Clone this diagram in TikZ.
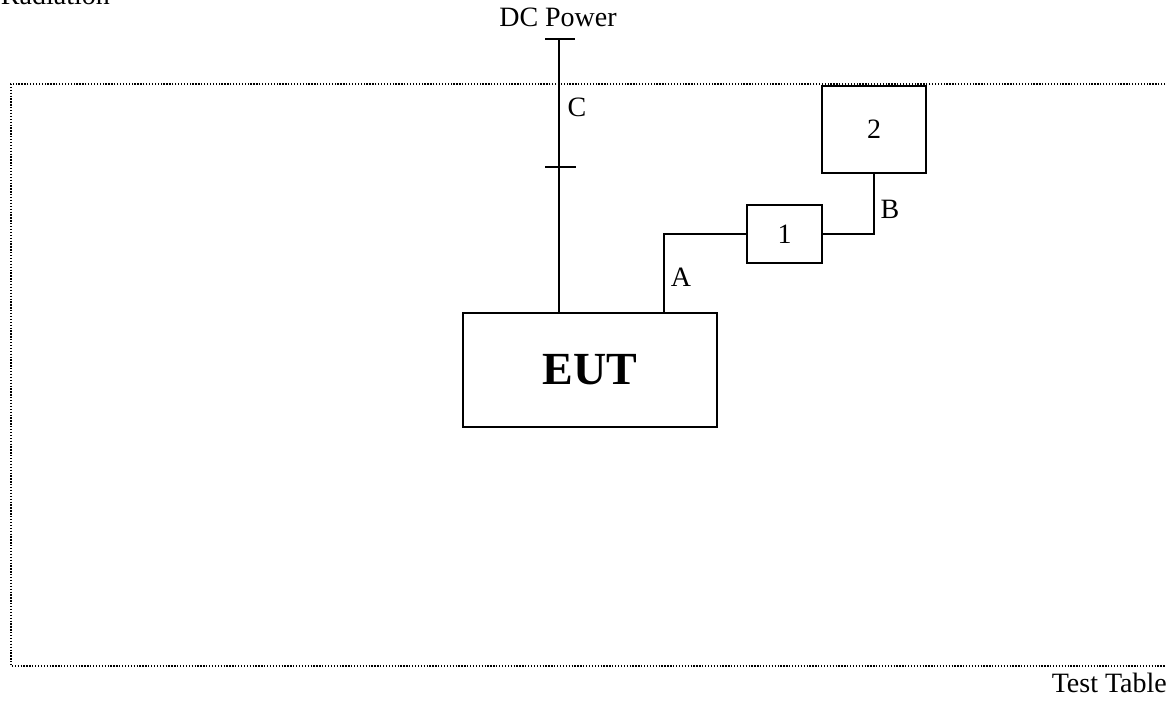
\documentclass[tikz,border=0pt]{standalone}
\usepackage{fontspec}
\setmainfont{Liberation Serif}
\begin{document}
\begin{tikzpicture}[x=1pt,y=-1pt,
  wire/.style={line width=2pt},
  boxnode/.style={draw,line width=2pt,inner sep=0pt,font=\fontsize{28}{32}\selectfont},
  lbl/.style={inner sep=0pt,font=\fontsize{28}{32}\selectfont},
  tabledge/.style={line width=1.3pt,dash pattern=on 1.3pt off 1.6pt}]
\useasboundingbox (0,0) rectangle (1166,701);
% test table outline
\draw[tabledge] (1200,84) -- (11,84) -- (11,666) -- (1200,666);
% nodes
\node[boxnode,minimum width=254pt,minimum height=114pt,font=\bfseries\fontsize{46}{50}\selectfont] (eut) at (590,370) {EUT};
\node[boxnode,minimum width=75pt,minimum height=58pt] (b1) at (784.5,234) {1};
\node[boxnode,minimum width=104pt,minimum height=87pt] (b2) at (874,129.5) {2};
% texts
\node[lbl,anchor=base east] (rad) at (110,5) {Radiation};
\node[lbl,anchor=base] (dc) at (558,27) {DC Power};
\node[lbl,anchor=base east] (tt) at (1167,692) {Test Table};
\node[lbl] (lc) at (577,107) {C};
\node[lbl] (la) at (681,277) {A};
\node[lbl] (lb) at (890,209) {B};
% DC power cable C
\coordinate (dctop) at (559,39);
\coordinate (t1a) at (545,39); \coordinate (t1b) at (575,39);
\coordinate (t2a) at (545,167); \coordinate (t2b) at (576,167);
\draw[wire] (dctop) -- (dctop |- eut.north);
\draw[wire] (t1a) -- (t1b);
\draw[wire] (t2a) -- (t2b);
% cable A
\coordinate (aa) at (664,313);
\draw[wire] (aa) |- (b1.west);
% cable B
\draw[wire] (b1.east) -| (b2.south);
\end{tikzpicture}
\end{document}
